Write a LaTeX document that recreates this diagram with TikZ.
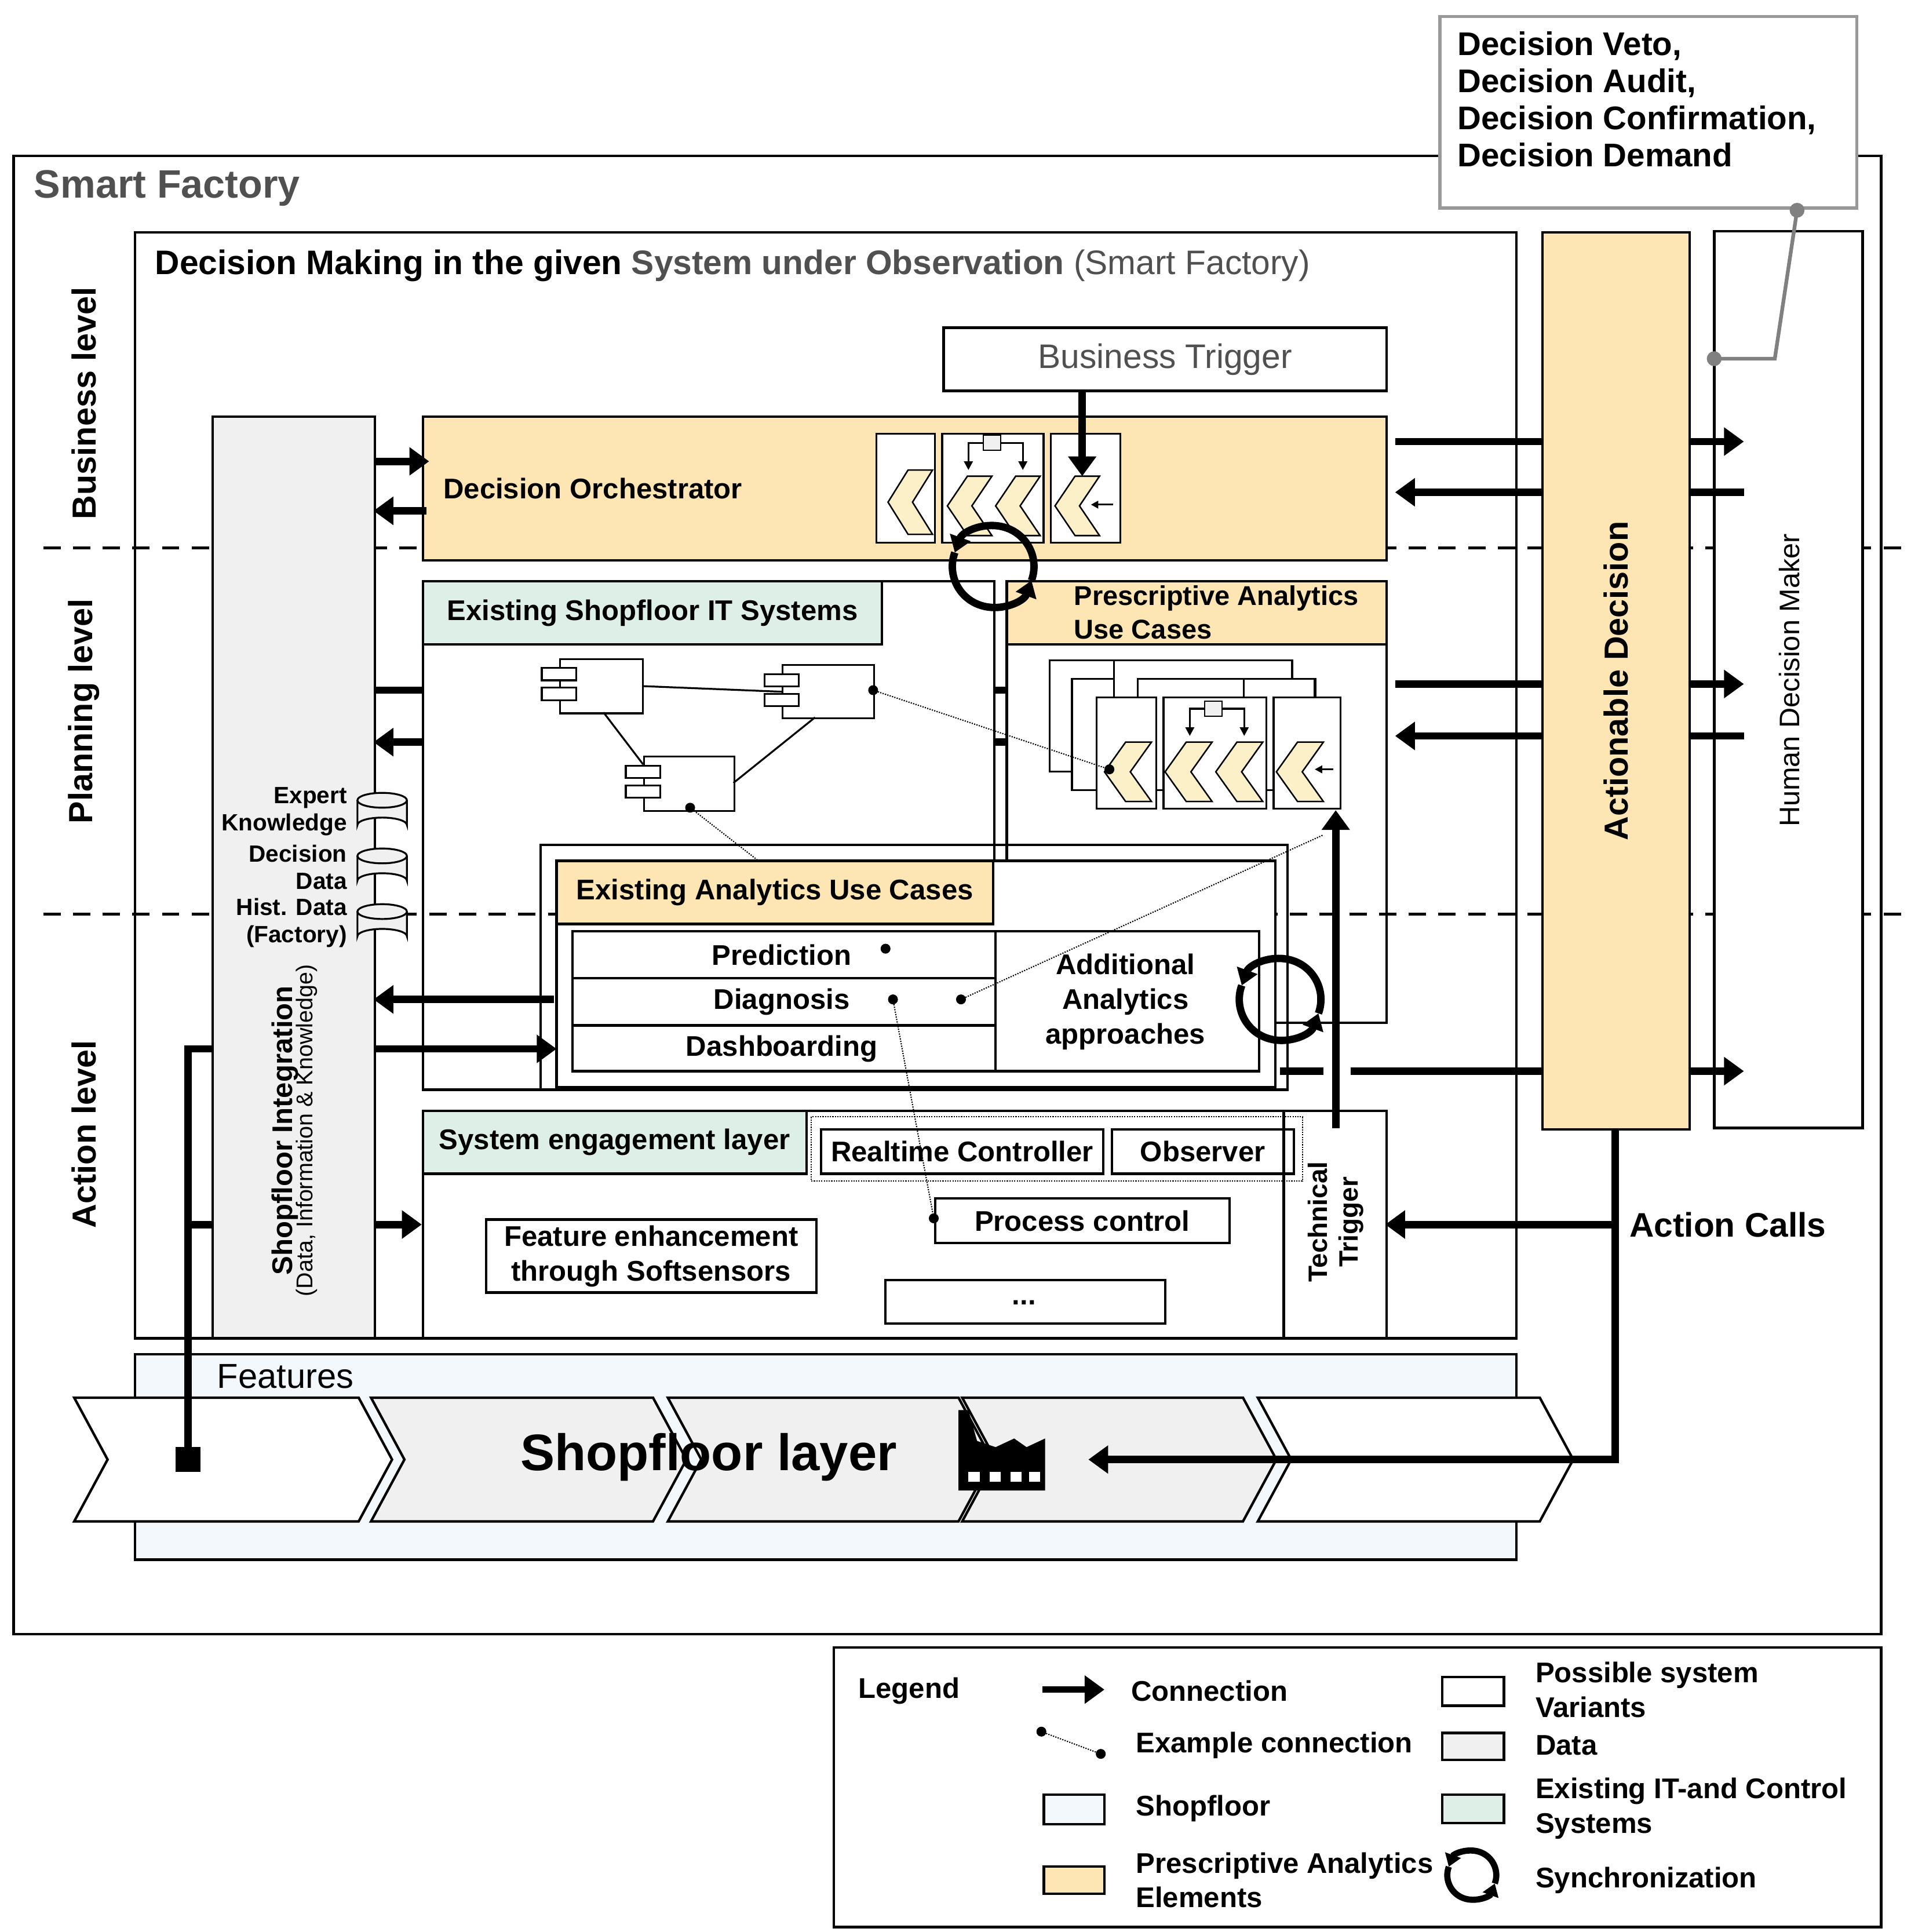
\documentclass[tikz,border=0pt]{standalone}
\usepackage{fontspec}
\setmainfont{Liberation Sans}
\usetikzlibrary{arrows.meta,calc}
\definecolor{pa}{RGB}{253,229,180}
\definecolor{it}{RGB}{222,239,232}
\definecolor{sf}{RGB}{242,248,252}
\definecolor{dat}{RGB}{240,240,240}
\definecolor{chev}{RGB}{251,240,200}
\definecolor{gtx}{RGB}{80,80,80}
\newcommand{\bx}[7]{\node[#6,anchor=north west,minimum width={#4-#2},minimum height={#5-#3},inner sep=0pt] (#1) at (#2,#3) {#7};}
\newcommand{\chv}[4]{\filldraw[fill=chev,line width=1.2] (#1+#3,#2)--(#1+0.45*#3,#2)--(#1,#2+0.5*#4)--(#1+0.45*#3,#2+#4)--(#1+#3,#2+#4)--(#1+0.55*#3,#2+0.5*#4)--cycle;}
\newcommand{\sync}[3]{\draw[line width=#3,-{Triangle[length=13,width=17]}] (#1,#2) ++(200:33) arc (200:20:33);
 \draw[line width=#3,-{Triangle[length=13,width=17]}] (#1,#2) ++(20:33) arc (20:-160:33);}
\begin{document}
\begin{tikzpicture}[x=1pt,y=-1pt,
  box/.style={draw,line width=2},
  thin box/.style={draw,line width=1.5},
  ta/.style={line width=6,-{Triangle[length=16,width=22]}},
  tl/.style={line width=6},
  lbl/.style={font=\fontsize{23}{28}\selectfont\bfseries,align=center},
  lvl/.style={font=\fontsize{27}{30}\selectfont\bfseries,rotate=90},
  ex/.style={densely dotted,line width=1},
  dot/.style={circle,fill,inner sep=0pt,minimum size=8}]
\useasboundingbox (0,0) rectangle (1545,1562);
% outer
\bx{sfac}{10}{125}{1520}{1320}{box}{}
\node[anchor=west,text=gtx,font=\fontsize{32}{35}\selectfont\bfseries] (sftitle) at (24,152) {Smart Factory};
\bx{dm}{108}{187}{1225}{1081}{box}{}
\node[anchor=west,font=\fontsize{27.5}{30}\selectfont] (dmt) at (122,215) {\bfseries Decision Making in the given {\color{gtx}System under Observation} \mdseries{\color{gtx}(Smart Factory)}};
% dashed level lines
\draw[line width=2,dash pattern=on 14pt off 10pt] (35,443)--(1540,443);
\draw[line width=2,dash pattern=on 14pt off 10pt] (35,739)--(1540,739);
\node[lvl] (lb) at (68,326) {Business level};
\node[lvl] (lp) at (68,575) {Planning level};
\node[lvl] (la) at (68,917) {Action level};
% decision box
\bx{veto}{1163}{12}{1500}{167}{draw=gray!80,line width=2.5,fill=white}{}
\node[anchor=north west,align=left,font=\fontsize{26.5}{30}\selectfont\bfseries] (vetot) at (1175,22) {Decision Veto,\\Decision Audit,\\Decision Confirmation,\\Decision Demand};
% human decision maker column
\filldraw[fill=white,line width=2] (1386,187) rectangle (1506,912);
\node[rotate=90,font=\fontsize{22.8}{25}\selectfont] (hdm) at (1447,550) {Human Decision Maker};
% features / shopfloor
\bx{feat}{108}{1094}{1225}{1260}{box,fill=sf}{}
\node[anchor=west,font=\fontsize{28}{30}\selectfont] (featt) at (172,1113) {Features};
\foreach \a/\b/\f in {1017/1245/white,778/1005/dat,540/775/dat,300/528/dat,60/290/white}{
 \filldraw[fill=\f,line width=2] (\a,1130)--(\b,1130)--(\b+27,1180)--(\b,1230)--(\a,1230)--(\a+27,1180)--cycle;}
\node[font=\fontsize{41.5}{45}\selectfont\bfseries] (sfl) at (573,1178) {Shopfloor layer};
% factory icon
\fill (775,1205)--(775,1140)--(783,1140)--(790,1165)--(805,1170)--(820,1163)--(830,1170)--(845,1163)--(845,1205)--cycle;
\foreach \xx in {783,800,817,832}{\fill[white] (\xx,1190) rectangle (\xx+9,1198);}
% left connectors (behind column)
\draw[tl] (152,1180)--(152,848)--(175,848);
\draw[tl] (152,990)--(175,990);
\fill (142,1170) rectangle (162,1190);
% shopfloor integration
\bx{sfi}{171}{336}{302}{1081}{box,fill=dat}{}
\node[rotate=90,align=center] at (238,914) {{\fontsize{23}{26}\selectfont\bfseries Shopfloor Integration}\\[-3pt]{\fontsize{18.5}{20}\selectfont (Data, Information \& Knowledge)}};
\foreach \yy/\t in {655/{Expert\\Knowledge},700/{Decision\\Data},745/{Hist. Data\\(Factory)}}{
 \filldraw[fill=dat,line width=1.5] (289,\yy-8) -- (289,\yy+12) arc (180:360:20 and 6) -- (329,\yy-8);
 \filldraw[fill=dat,line width=1.5] (309,\yy-8) ellipse (20 and 6);
 \node[anchor=east,align=right,font=\fontsize{19}{22}\selectfont\bfseries] at (284,\yy+1) {\t};}
% business trigger & orchestrator
\bx{bt}{762}{264}{1120}{315}{box}{}
\node[font=\fontsize{27.5}{30}\selectfont,text=gtx] at (bt.center) {Business Trigger};
\bx{do}{341}{336}{1120}{452}{box,fill=pa}{}
\node[anchor=west,lbl] at (355,395) {Decision Orchestrator};
\bx{i1}{708}{350}{755}{438}{thin box,fill=white}{}
\bx{i2}{761}{350}{843}{438}{thin box,fill=white}{}
\bx{i3}{849}{350}{905}{438}{thin box,fill=white}{}
\chv{718}{380}{36}{52}
\chv{766}{385}{36}{48}
\chv{805}{385}{36}{48}
\chv{853}{385}{36}{48}
\filldraw[fill=dat,line width=1] (795,352) rectangle (809,364);
\draw[line width=1.5,-{Triangle[length=7,width=7]}] (795,358)--(783,358)--(783,380);
\draw[line width=1.5,-{Triangle[length=7,width=7]}] (809,358)--(827,358)--(827,380);
\draw[line width=1.5,-{Triangle[length=6,width=6]}] (900,408)--(882,408);
\draw[ta] (875,315) -- (875,385);
% IT systems
\bx{its}{341}{469}{803}{880}{box}{}
\bx{itsh}{341}{469}{712}{520}{box,fill=it}{}
\node[lbl] at (itsh.center) {Existing Shopfloor IT Systems};
\foreach \n/\x/\y/\w/\h in {c1/452/532/67/44,c2/632/537/74/43,c3/520/611/73/44}{
 \bx{\n}{\x}{\y}{\x+\w}{\y+\h}{thin box,fill=white}{}
 \filldraw[fill=white,line width=1.5] (\x-14,\y+8) rectangle (\x+14,\y+18);
 \filldraw[fill=white,line width=1.5] (\x-14,\y+24) rectangle (\x+14,\y+34);}
\draw[line width=1.5] (c1.east)--(c2.west);
\draw[line width=1.5] (488,576)--(520,618);
\draw[line width=1.5] (659,580)--(593,633);
% PA use cases
\bx{pau}{813}{469}{1120}{826}{box}{}
\bx{pauh}{813}{469}{1120}{520}{box,fill=pa}{}
\node[lbl,align=left,anchor=west,font=\fontsize{22}{27}\selectfont\bfseries] at (865,495) {Prescriptive Analytics\\Use Cases};
\foreach \x/\y/\w in {848/533/52,866/548/52}{\bx{}{\x}{\y}{\x+\w}{\y+90}{thin box,fill=white}{}}
\foreach \x/\y/\w in {900/533/144,919/548/144}{\bx{}{\x}{\y}{\x+\w}{\y+90}{thin box,fill=white}{}}
\foreach \x/\y in {1005/548}{\bx{}{\x}{\y}{\x+57}{\y+90}{thin box,fill=white}{}}
\bx{p1}{886}{563}{934}{653}{thin box,fill=white}{}
\bx{p2}{940}{563}{1023}{653}{thin box,fill=white}{}
\bx{p3}{1029}{563}{1083}{653}{thin box,fill=white}{}
\chv{893}{600}{38}{48}
\chv{942}{600}{38}{48}
\chv{983}{600}{38}{48}
\chv{1032}{600}{38}{48}
\filldraw[fill=dat,line width=1] (974,567) rectangle (988,579);
\draw[line width=1.5,-{Triangle[length=7,width=7]}] (974,573)--(962,573)--(962,595);
\draw[line width=1.5,-{Triangle[length=7,width=7]}] (988,573)--(1006,573)--(1006,595);
\draw[line width=1.5,-{Triangle[length=6,width=6]}] (1078,622)--(1063,622);
% existing analytics
\bx{eao}{436}{682}{1040}{880}{box}{}
\bx{ea}{449}{695}{1030}{878}{box,fill=white}{}
\bx{eah}{449}{695}{802}{746}{box,fill=pa}{}
\node[lbl] at (eah.center) {Existing Analytics  Use Cases};
\bx{pred}{462}{752}{804}{790}{box}{}
\node[lbl] at (632,772) {Prediction};
\bx{diag}{462}{790}{804}{828}{box}{}
\node[lbl] at (632,810) {Diagnosis};
\bx{dash}{462}{828}{804}{865}{box}{}
\node[lbl] at (632,848) {Dashboarding};
\bx{add}{804}{752}{1017}{865}{box}{}
\node[lbl] at (910,810) {Additional\\Analytics\\approaches};
% system engagement
\bx{se}{341}{897}{1120}{1081}{box}{}
\bx{seh}{341}{897}{651}{948}{box,fill=it}{}
\node[lbl] at (seh.center) {System engagement layer};
\draw[line width=2] (1038,897)--(1038,1081);
\node[rotate=90,lbl,font=\fontsize{21.5}{25}\selectfont\bfseries] (tt) at (1080,988) {Technical\\Trigger};
\draw[densely dotted,line width=1] (656,903) rectangle (1053,955);
\bx{rc}{663}{912}{891}{948}{box}{}
\node[lbl] at (rc.center) {Realtime Controller};
\bx{obs}{898}{912}{1045}{948}{box}{}
\node[lbl] at (obs.center) {Observer};
\bx{pc}{755}{968}{993}{1004}{box}{}
\node[lbl] at (pc.center) {Process control};
\bx{fe}{392}{985}{659}{1044}{box}{}
\node[lbl] at (fe.center) {Feature enhancement\\through Softsensors};
\bx{dots}{715}{1034}{941}{1069}{box}{}
\node[lbl] at (828,1053) {...};
% sync symbols
\sync{803}{458}{6}
\sync{1035}{808}{6}
% example connections
\draw[ex] (706,558)--(897,622); \node[dot] at (706,558) {}; \node[dot] at (897,622) {};
\draw[ex] (558,653)--(612,695); \node[dot] at (558,653) {};
\node[dot] at (716,767) {};
\draw[ex] (722,808)--(740,905)--(755,985); \node[dot] at (722,808) {}; \node[dot] at (755,985) {};
\draw[ex] (777,808)--(1070,675); \node[dot] at (777,808) {};
% connections
\draw[ta] (302,373)--(347,373);
\draw[ta] (345,413)--(302,413);
\draw[tl] (302,558)--(341,558);
\draw[ta] (341,600)--(302,600);
\draw[tl] (803,558)--(813,558); \draw[tl] (803,600)--(813,600);
\draw[ta] (448,808)--(302,808);
\draw[ta] (302,848)--(450,848);
\draw[ta] (302,990)--(341,990);
\draw[ta] (1128,357)--(1410,357);
\draw[ta] (1410,398)--(1128,398);
\draw[ta] (1128,553)--(1410,553);
\draw[ta] (1410,595)--(1128,595);
\draw[tl] (1035,866)--(1070,866);
\draw[ta] (1092,866)--(1410,866);
\draw[ta] (1080,912)--(1080,655);
\draw[ta] (1306,912)--(1306,1180)--(880,1180);
\draw[ta] (1306,990)--(1120,990);
\node[anchor=west,font=\fontsize{27.5}{30}\selectfont\bfseries] (ac) at (1314,990) {Action Calls};
% actionable decision (over arrows)
\bx{ad}{1246}{187}{1365}{912}{box,fill=pa}{}
\node[rotate=90,font=\fontsize{27}{30}\selectfont\bfseries] at (ad.center) {Actionable Decision};
\coordinate (g1) at (1453,170); \coordinate (g2) at (1435,290); \coordinate (g3) at (1386,290);
\draw[gray,line width=3] (g1)--(g2)--(g3);
\fill[gray] (g1) circle (6); \fill[gray] (g3) circle (6);
% legend
\bx{leg}{673}{1331}{1520}{1557}{box}{}
\node[lbl] at (735,1367) {Legend};
\draw[ta,line width=5] (843,1366)--(893,1366);
\node[lbl,anchor=west] at (911,1367) {Connection};
\draw[ex] (842,1400)--(890,1418); \node[dot] at (842,1400) {}; \node[dot] at (890,1418) {};
\node[lbl,anchor=west] at (915,1411) {Example connection};
\bx{l1}{843}{1450}{892}{1474}{box,fill=sf}{}
\node[lbl,anchor=west] at (915,1462) {Shopfloor};
\bx{l2}{843}{1508}{892}{1530}{box,fill=pa}{}
\node[lbl,anchor=west,align=left] at (915,1520) {Prescriptive Analytics\\Elements};
\bx{l3}{1165}{1355}{1215}{1378}{box,fill=white}{}
\node[lbl,anchor=west,align=left] at (1238,1366) {Possible system\\Variants};
\bx{l4}{1165}{1400}{1215}{1422}{box,fill=dat}{}
\node[lbl,anchor=west] at (1238,1411) {Data};
\bx{l5}{1165}{1450}{1215}{1473}{box,fill=it}{}
\node[lbl,anchor=west,align=left] at (1238,1462) {Existing IT-and Control\\Systems};
\begin{scope}[shift={(1190,1516)},scale=0.6]
\draw[line width=5,-{Triangle[length=10,width=13]}] (200:33) arc (200:20:33);
\draw[line width=5,-{Triangle[length=10,width=13]}] (20:33) arc (20:-160:33);
\end{scope}
\node[lbl,anchor=west] at (1238,1520) {Synchronization};
\end{tikzpicture}
\end{document}
